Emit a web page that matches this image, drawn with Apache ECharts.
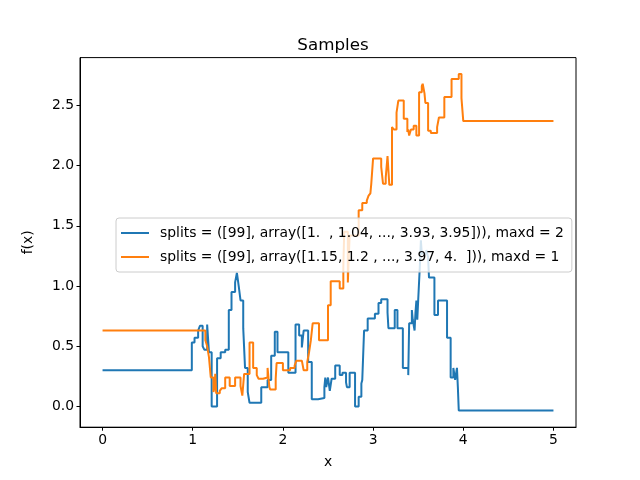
<!DOCTYPE html>
<html>
<head>
<meta charset="utf-8">
<script src="https://cdn.jsdelivr.net/npm/echarts@6/dist/echarts.min.js"></script>
<style>html,body{margin:0;padding:0;background:#fff}#chart{width:640px;height:480px}</style>
</head>
<body>
<div id="chart"></div>
<script>
const titleText = "Samples";
const seriesNames = [
  "splits = ([99], array([1.  , 1.04, ..., 3.93, 3.95])), maxd = 2",
  "splits = ([99], array([1.15, 1.2 , ..., 3.97, 4.  ])), maxd = 1"
];
const xTicks = [0, 1, 2, 3, 4, 5];
const yTicks = [0, 0.5, 1, 1.5, 2, 2.5];

const blueX = [0, 0.99, 1.02, 1.06, 1.08, 1.11, 1.13, 1.16, 1.18, 1.21, 1.27, 1.31, 1.36, 1.40, 1.43, 1.47, 1.49, 1.51, 1.53, 1.56, 1.58, 1.61, 1.63, 1.76, 1.83, 1.87, 1.91, 1.94, 2.06, 2.14, 2.18, 2.21, 2.23, 2.28, 2.32, 2.39, 2.46, 2.47, 2.48, 2.50, 2.52, 2.54, 2.58, 2.63, 2.66, 2.70, 2.71, 2.74, 2.80, 2.84, 2.87, 2.88, 2.90, 2.94, 3.02, 3.06, 3.09, 3.16, 3.17, 3.24, 3.27, 3.33, 3.39, 3.40, 3.43, 3.44, 3.46, 3.47, 3.48, 3.49, 3.50, 3.52, 3.53, 3.54, 3.59, 3.61, 3.62, 3.68, 3.72, 3.82, 3.86, 3.89, 3.91, 3.93, 3.94, 3.95, 5.0];
const blueY = [0.30, 0.53, 0.57, 0.63, 0.67, 0.50, 0.47, 0.68, 0.45, 0.0, 0.40, 0.45, 0.47, 0.80, 0.95, 1.03, 1.11, 1.00, 0.88, 0.65, 0.32, 0.12, 0.03, 0.16, 0.22, 0.42, 0.62, 0.45, 0.28, 0.68, 0.59, 0.49, 0.63, 0.37, 0.06, 0.07, 0.16, 0.24, 0.16, 0.24, 0.13, 0.23, 0.34, 0.26, 0.28, 0.20, 0.16, 0.28, 0.0, 0.08, 0.19, 0.22, 0.63, 0.73, 0.77, 0.86, 0.89, 0.78, 0.65, 0.80, 0.65, 0.32, 0.26, 0.69, 0.80, 0.72, 0.63, 0.78, 0.88, 0.72, 0.88, 1.19, 1.38, 1.27, 1.30, 1.24, 1.07, 0.76, 0.88, 0.57, 0.24, 0.32, 0.22, 0.32, 0.16, -0.033, -0.033];

const orangeX = [0, 1.14, 1.16, 1.18, 1.20, 1.23, 1.24, 1.25, 1.26, 1.30, 1.32, 1.36, 1.41, 1.47, 1.53, 1.55, 1.57, 1.63, 1.67, 1.71, 1.73, 1.78, 1.83, 1.85, 1.86, 1.92, 1.93, 2.00, 2.08, 2.13, 2.15, 2.21, 2.23, 2.27, 2.29, 2.31, 2.33, 2.40, 2.50, 2.53, 2.63, 2.67, 2.68, 2.72, 2.74, 2.84, 2.88, 2.93, 2.95, 2.97, 2.98, 3.00, 3.09, 3.11, 3.14, 3.16, 3.18, 3.21, 3.23, 3.26, 3.28, 3.34, 3.38, 3.39, 3.40, 3.42, 3.45, 3.48, 3.51, 3.54, 3.55, 3.57, 3.58, 3.61, 3.64, 3.71, 3.73, 3.79, 3.87, 3.95, 3.98, 4.00, 5.0];
const orangeY = [0.63, 0.55, 0.50, 0.41, 0.24, 0.12, 0.15, 0.27, 0.11, 0.13, 0.15, 0.24, 0.17, 0.24, 0.17, 0.09, 0.27, 0.53, 0.32, 0.26, 0.23, 0.24, 0.32, 0.16, 0.14, 0.23, 0.36, 0.30, 0.32, 0.34, 0.38, 0.37, 0.30, 0.37, 0.45, 0.55, 0.69, 0.55, 0.84, 1.04, 0.98, 1.16, 1.45, 1.03, 1.42, 1.63, 1.69, 1.71, 1.75, 1.77, 1.85, 2.06, 1.99, 1.85, 1.90, 2.08, 1.84, 2.32, 2.30, 2.44, 2.54, 2.39, 2.28, 2.30, 2.25, 2.30, 2.33, 2.25, 2.61, 2.66, 2.68, 2.60, 2.52, 2.29, 2.27, 2.32, 2.40, 2.57, 2.72, 2.76, 2.56, 2.37, 2.37];

const zip = (xs, ys) => xs.map((x, i) => [x, ys[i]]);

const chart = echarts.init(document.getElementById('chart'), null, {renderer: 'canvas'});
const font = 'DejaVu Sans';
chart.setOption({
  animation: false,
  backgroundColor: '#fff',
  title: {
    text: titleText, left: 328, top: 32, textAlign: 'center',
    textStyle: {fontFamily: font, fontSize: 16.7, fontWeight: 'normal', color: '#000'}
  },
  grid: {left: 80, right: 64, top: 57.6, bottom: 52.8, show: true, borderColor: '#000', borderWidth: 1, containLabel: false},
  legend: {
    orient: 'vertical', left: 116, top: 218,
    data: seriesNames,
    icon: 'rect',
    itemWidth: 28, itemHeight: 2, itemGap: 10,
    padding: [8, 8, 8, 5],
    backgroundColor: 'rgba(255,255,255,0.8)', borderColor: '#cccccc', borderWidth: 1, borderRadius: 3,
    textStyle: {fontFamily: font, fontSize: 13.9, color: '#000', padding: [0, 0, 0, 6]}
  },
  xAxis: {
    type: 'value', min: -0.25, max: 5.25,
    name: 'x', nameLocation: 'middle', nameGap: 28,
    nameTextStyle: {fontFamily: font, fontSize: 13.9, color: '#000'},
    axisLine: {show: true, onZero: false, lineStyle: {color: '#000', width: 1}},
    axisTick: {show: true, length: 3.5, lineStyle: {color: '#000'}, customValues: xTicks},
    axisLabel: {fontFamily: font, fontSize: 13.9, color: '#000', margin: 6, customValues: xTicks, formatter: v => String(v)},
    splitLine: {show: false}
  },
  yAxis: {
    type: 'value', min: -0.1725, max: 2.897,
    name: 'f(x)', nameLocation: 'middle', nameGap: 45,
    nameTextStyle: {fontFamily: font, fontSize: 13.9, color: '#000'},
    axisLine: {show: true, onZero: false, lineStyle: {color: '#000', width: 1}},
    axisTick: {show: true, length: 3.5, lineStyle: {color: '#000'}, customValues: yTicks},
    axisLabel: {fontFamily: font, fontSize: 13.9, color: '#000', margin: 6, customValues: yTicks, formatter: v => v.toFixed(1)},
    splitLine: {show: false}
  },
  series: [
    {name: seriesNames[0], type: 'line', step: 'end', data: zip(blueX, blueY), showSymbol: false, symbol: 'none',
     lineStyle: {color: '#1f77b4', width: 2}, itemStyle: {color: '#1f77b4'}},
    {name: seriesNames[1], type: 'line', step: 'end', data: zip(orangeX, orangeY), showSymbol: false, symbol: 'none',
     lineStyle: {color: '#ff7f0e', width: 2}, itemStyle: {color: '#ff7f0e'}}
  ]
});
</script>
</body>
</html>
